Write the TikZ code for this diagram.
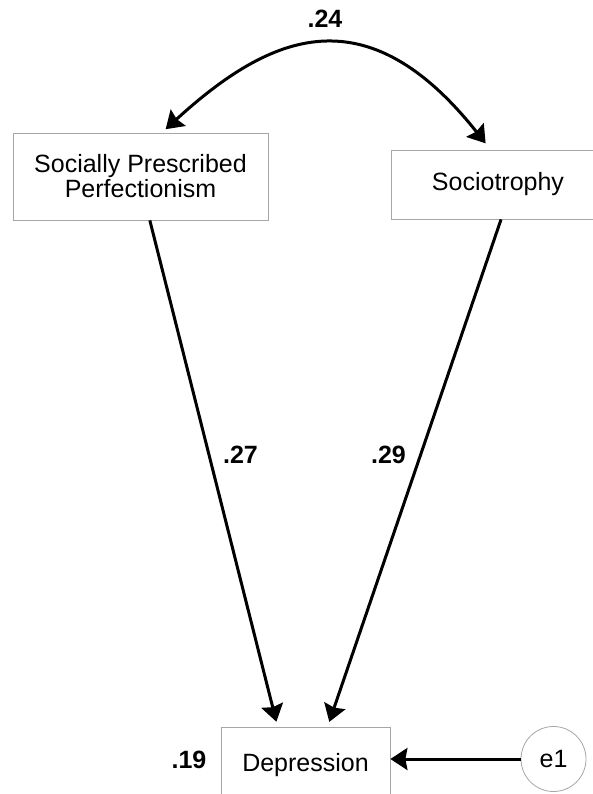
\documentclass[tikz,border=0pt]{standalone}
\usepackage{fontspec}
\setmainfont{Liberation Sans}
\usetikzlibrary{arrows.meta}

\begin{document}
\begin{tikzpicture}[x=1pt, y=-1pt,
        every node/.style={font=\fontsize{25}{25}\selectfont, inner sep=0pt},
        var/.style={draw=black!35, line width=0.8pt, rectangle, align=center},
        err/.style={draw=black!35, line width=0.8pt, circle, minimum size=65pt},
        coef/.style={font=\fontsize{25}{25}\selectfont\bfseries, anchor=base},
        path/.style={line width=3pt, -{Stealth[length=17pt, width=22pt, inset=2pt]}}]
        \useasboundingbox (0,0) rectangle (593,794);
        % observed variables
        \node[var, minimum width=255pt, minimum height=87pt] (spp) at (140.5,176.5)
                {Socially Prescribed\\Perfectionism};
        \node[var, minimum width=214pt, minimum height=69pt] (soc) at (498,184.5) {Sociotrophy};
        \node[var, minimum width=169pt, minimum height=76pt] (dep) at (305.5,765) {Depression};
        \node[err] (e1) at (553.5,759) {e1};
        % correlation
        \draw[path, {Stealth[length=17pt, width=22pt, inset=2pt]}-{Stealth[length=17pt, width=22pt, inset=2pt]},
                shorten <=5pt, shorten >=8pt]
                (spp.64) .. controls (272,32) and (367,-6) .. (soc.102);
        % regression paths
        \draw[path, shorten >=5pt] (spp.-78) -- (dep.126);
        \draw[path, shorten >=5pt] (soc.-85) -- (dep.60);
        \draw[path] (e1.west) -- (e1.west -| dep.east);
        % estimates
        \node[coef] (r) at (325,28) {.24};
        \node[coef] (b1) at (240.5,463) {.27};
        \node[coef] (b2) at (388.5,463) {.29};
        \node[coef] (rsq) at (189,768) {.19};
\end{tikzpicture}
\end{document}
